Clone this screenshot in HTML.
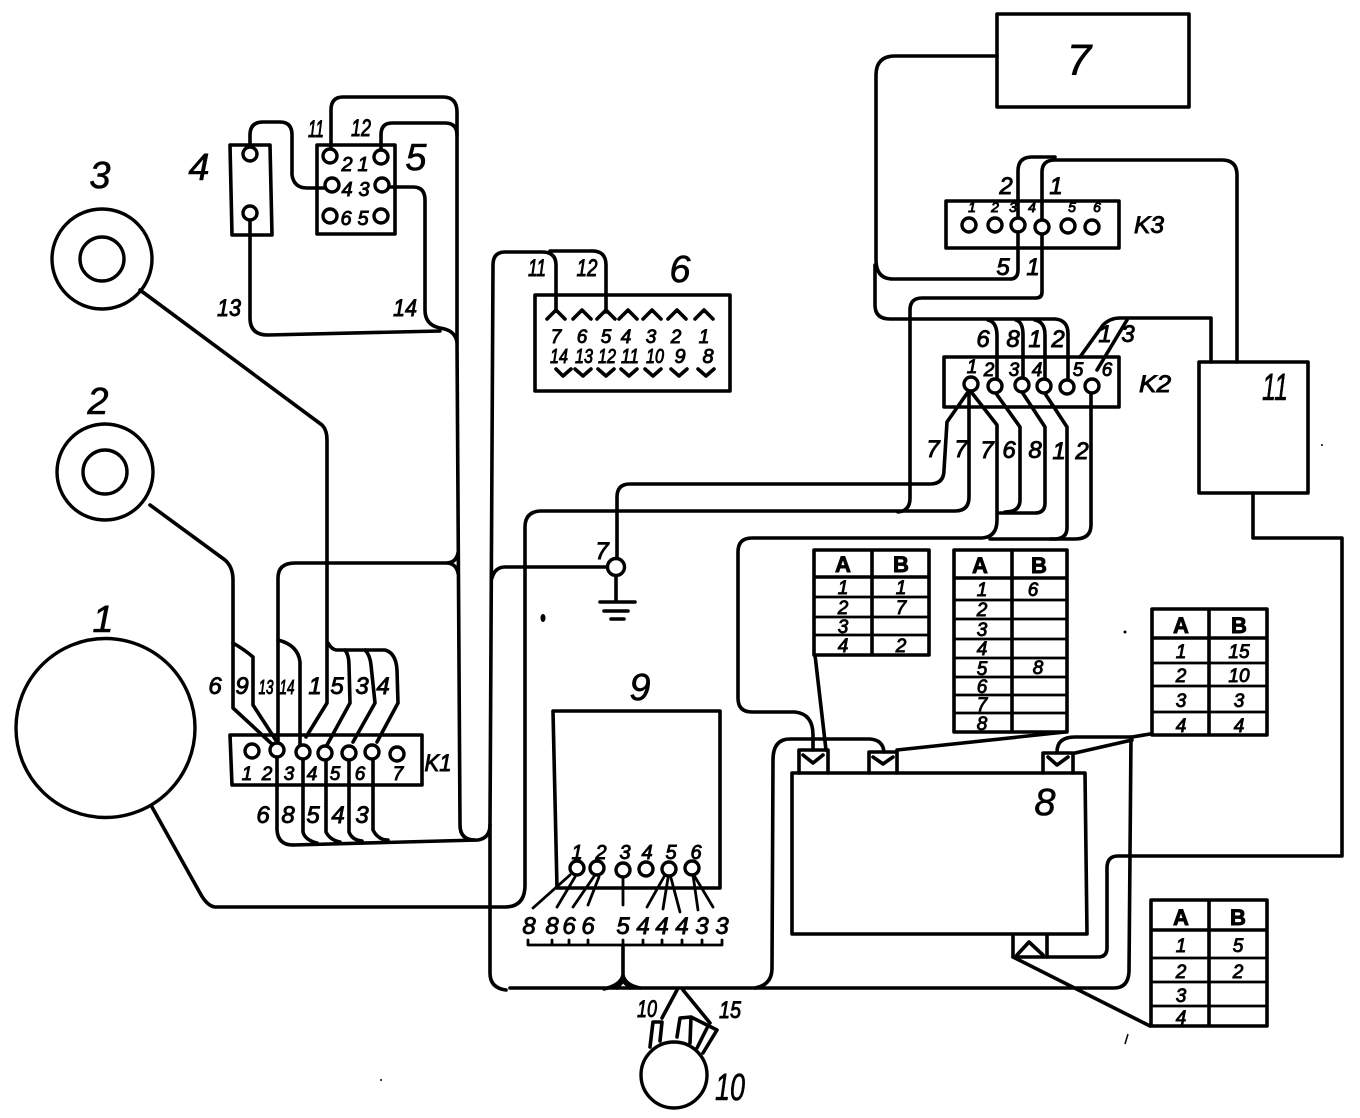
<!DOCTYPE html>
<html>
<head>
<meta charset="utf-8">
<style>
html,body{margin:0;padding:0;background:#fff}
svg{display:block}
.w{fill:none;stroke:#000;stroke-width:3.6;stroke-linecap:round;stroke-linejoin:round}
.t{fill:none;stroke:#000;stroke-width:2.8;stroke-linecap:round;stroke-linejoin:round}
.c{fill:#fff;stroke:#000;stroke-width:3.4}
text{font-family:"Liberation Sans",sans-serif;font-style:italic;fill:#000;stroke:#000;stroke-width:.9;text-anchor:middle}
.xl{font-size:44px;stroke-width:.6}
.l{font-size:38px;stroke-width:.6}
.m{font-size:24px}
.s{font-size:19px}
.n{font-size:20px}
.a{font-size:22px;font-style:normal;font-weight:bold}
.xs{font-size:14px}
</style>
</head>
<body>
<svg width="1360" height="1118" viewBox="0 0 1360 1118" xmlns="http://www.w3.org/2000/svg">
<rect width="1360" height="1118" fill="#fff"/>

<!-- device circles -->
<circle class="c" cx="102" cy="259" r="50"/><circle class="c" cx="102" cy="259" r="22"/>
<circle class="c" cx="105" cy="472" r="48"/><circle class="c" cx="105" cy="472" r="22"/>
<circle class="c" cx="105.5" cy="728" r="89.5"/>
<circle class="c" cx="674" cy="1075" r="33"/>

<!-- boxes -->
<g class="w">
<path d="M997,14H1189V107H997Z"/>
<path d="M946,201H1119V248H946Z"/>
<path d="M944,357H1119V407H944Z"/>
<path d="M1199,362H1308V493H1199Z"/>
<path d="M535,295H730V391H535Z"/>
<path d="M230,145H270L272,235H232Z"/>
<path d="M317,145H395V234H317Z"/>
<path d="M230,735H422V785H232Z"/>
<path d="M553,711H720V888H557Z"/>
<path d="M792,773H1085L1087,934H792Z"/>
<path d="M799,773V750H828V773M869,773V752H897V773M1043,773V753H1073V773M1013,935V957H1047V935"/>
<path d="M803,755L813,763L823,755M873,757L883,764L893,757M1048,757L1057,765L1068,757M1017,955L1029,942L1043,955"/>
</g>

<!-- wires top right -->
<g class="w">
<path d="M1042,226V172Q1042,160 1055,160H1222Q1237,160 1237,175V362"/>
<path d="M1018,225V171Q1018,157 1032,157H1055"/>
<path d="M1018,232V270Q1018,279 1010,279H893Q876,279 876,260V75Q876,56 895,56H997"/>
<path d="M1042,233V292Q1042,298 1036,298H922Q910,298 910,310V498Q910,511 898,512"/>
<path d="M875,265V305Q875,319 890,319H1055Q1068,320 1068,334V380"/>
<path d="M988,320Q997,322 997,336V378M1016,320Q1023,322 1023,335V378M1035,320Q1045,322 1045,335V379"/>
<path d="M1080,357L1103,325Q1110,318 1120,318H1211V362"/>
<path d="M1097,370L1127,320"/>
<path d="M968,392L947,422L944,470Q944,484 930,484H630Q617,484 617,497V558"/>
<path d="M969,393V497Q969,511 955,511H540Q525,512 525,527V885Q525,907 505,907H215Q207,906 200,893L152,807"/>
<path d="M972,393L997,425V520Q997,537 982,538H752Q738,538 738,552V698Q738,712 752,712H795Q813,714 813,735V750"/>
<path d="M995,392L1020,427V500Q1020,512 1005,512"/>
<path d="M1022,392L1045,427V503Q1045,513 1035,513H1000"/>
<path d="M1044,392L1067,427V528Q1067,538 1056,539H990"/>
<path d="M1091,393V525Q1091,539 1075,539H1050"/>
<path d="M1253,493V538H1342V856H1118Q1107,856 1107,868V948Q1107,957 1098,957H1047"/>
</g>

<!-- wires around 8 -->
<g class="w">
<path d="M815,655L826,750"/>
<path d="M897,750L1065,732"/>
<path d="M1057,752Q1057,737 1075,737H1132L1150,734"/>
<path d="M1075,753L1132,740"/>
<path d="M1131,737L1129,972Q1128,988 1114,988H510"/>
<path d="M755,988Q772,985 772,968L773,760Q773,739 790,739H870Q883,740 884,752"/>
<path d="M1013,957L1150,1026"/>
</g>

<!-- left trunk wires -->
<g class="w">
<path d="M250,147V135Q250,122 263,122H280Q292,122 292,135V175Q294,188 307,188H325"/>
<path d="M331,149V110Q331,97 343,97H443Q457,97 457,112V340L460,825Q460,840 475,840"/>
<path d="M381,150V135Q381,123 392,123H445Q457,123 457,135"/>
<path d="M389,187H413Q425,187 425,200V310Q425,325 440,328Q455,330 457,342"/>
<path d="M250,220V318Q250,335 268,335L440,331"/>
<path d="M556,310V265Q556,252 542,252H505Q493,252 493,265L490,825V973Q490,988 506,990"/>
<path d="M550,251H590Q606,250 606,265V312"/>
<path d="M293,845L478,840Q490,838 490,825"/>
<path d="M492,578Q495,567 505,567H608"/>
<path d="M278,745V578Q278,563 295,563H446Q456,563 458,553M446,563Q456,563 458,573"/>
</g>

<!-- K1 wires -->
<g class="w">
<path d="M140,290L322,425Q327,430 327,440V703L306,737"/>
<path d="M150,505L225,560Q233,567 233,580V708L273,745"/>
<path d="M233,643Q245,650 253,657V705L277,742"/>
<path d="M278,640Q298,645 300,662V745"/>
<path d="M328,643Q332,650 337,650H385Q396,653 397,670L398,703L377,742"/>
<path d="M345,650Q349,655 349,665L350,703L327,745"/>
<path d="M365,650Q370,655 371,665L375,703L353,742"/>
<path d="M277,757V830Q278,845 293,845M303,760V832Q305,840 317,843M326,760V832Q330,840 340,842M349,760V832Q352,840 362,841M373,760V830Q378,840 388,840"/>
</g>

<!-- 9 leads + bracket -->
<g class="t">
<path d="M570,875L533,908M575,877L557,907M595,875L573,907M599,877L588,905M623,877V905M665,875L647,907M668,878L663,909M671,878L680,912M693,875L698,910M695,877L713,907"/>
<path d="M528,940V945H722V940M552,940V945M569,940V945M588,940V945M623,940V945M643,940V945M662,940V945M682,940V945M702,940V945"/>
</g>
<g class="w">
<path d="M623,945V975Q621,985 604,989M623,975Q625,985 640,988"/>
<path d="M617,988L623,981L630,988"/>
<path d="M677,990L662,1018M683,990L710,1023"/>
<path d="M650,1047L653,1022H662L660,1041M677,1037L680,1018L691,1017L690,1043M691,1017L717,1030L703,1053M707,1028L697,1048"/>
</g>

<!-- ground -->
<g class="w">
<path d="M616,575V601M600,602H635M604,611H628M611,619H624"/>
</g>

<!-- chevrons box 6 -->
<g class="w">
<path d="M547,319L556,310L565,319M573,319L582,310L591,319M597,319L606,310L615,319M619,319L628,310L637,319M643,319L652,310L661,319M668,319L677,310L686,319M695,319L704,310L713,319"/>
<path d="M556,369L563,376L571,369M575,369L583,376L591,369M598,369L606,376L614,369M621,369L629,376L637,369M645,369L653,376L661,369M671,369L679,376L687,369M698,369L706,376L714,369"/>
</g>

<!-- tables -->
<g class="w">
<path d="M814,550H929V655H814ZM872,550V655M814,577H929"/>
<path d="M954,550H1067V732H954ZM1012,550V732M954,578H1067"/>
<path d="M1152,609H1267V735H1152ZM1209,609V735M1152,638H1267"/>
<path d="M1151,900H1267V1026H1151ZM1209,900V1026M1151,930H1267"/>
</g>
<g class="t">
<path d="M814,597H929M814,617H929M814,635H929"/>
<path d="M954,600H1067M954,619H1067M954,639H1067M954,658H1067M954,677H1067M954,695H1067M954,713H1067"/>
<path d="M1152,663H1267M1152,686H1267M1152,712H1267"/>
<path d="M1151,958H1267M1151,982H1267M1151,1006H1267"/>
</g>

<!-- terminals -->
<g class="c">
<circle cx="969" cy="225" r="7"/><circle cx="995" cy="225" r="7"/><circle cx="1018" cy="225" r="7"/><circle cx="1042" cy="227" r="7"/><circle cx="1068" cy="226" r="7"/><circle cx="1092" cy="227" r="7"/>
<circle cx="971" cy="384" r="7"/><circle cx="995" cy="386" r="7"/><circle cx="1022" cy="385" r="7"/><circle cx="1044" cy="386" r="7"/><circle cx="1067" cy="387" r="7"/><circle cx="1092" cy="386" r="7"/>
<circle cx="250" cy="154" r="7"/><circle cx="250" cy="213" r="7"/>
<circle cx="330" cy="156" r="7"/><circle cx="381" cy="157" r="7"/><circle cx="332" cy="185" r="7"/><circle cx="382" cy="185" r="7"/><circle cx="330" cy="216" r="7"/><circle cx="381" cy="216" r="7"/>
<circle cx="252" cy="751" r="7"/><circle cx="277" cy="750" r="7"/><circle cx="303" cy="752" r="7"/><circle cx="325" cy="753" r="7"/><circle cx="349" cy="753" r="7"/><circle cx="372" cy="752" r="7"/><circle cx="397" cy="754" r="7"/>
<circle cx="577" cy="868" r="7"/><circle cx="597" cy="868" r="7"/><circle cx="623" cy="870" r="7"/><circle cx="646" cy="869" r="7"/><circle cx="669" cy="869" r="7"/><circle cx="692" cy="868" r="7"/>
<circle cx="616" cy="567" r="8.5"/>
</g>

<!-- specks -->
<ellipse cx="543" cy="618" rx="2.5" ry="4"/><circle cx="1125" cy="632" r="1.5"/><circle cx="381" cy="1080" r="1"/><circle cx="1322" cy="445" r="1"/><path d="M1125,1044L1128,1034" stroke="#000" stroke-width="1.5"/>

<!-- large labels -->
<text class="l" x="100" y="188">3</text>
<text class="l" x="98" y="414">2</text>
<text class="l" x="103" y="632">1</text>
<text class="l" x="199" y="180">4</text>
<text class="l" x="416" y="170">5</text>
<text class="l" x="680" y="282">6</text>
<text class="xl" x="1079" y="75">7</text>
<text class="l" x="1045" y="815">8</text>
<text class="l" x="640" y="700">9</text>
<text class="l" x="1275" y="400" textLength="26" lengthAdjust="spacingAndGlyphs">11</text>
<text class="l" x="730" y="1100" textLength="30" lengthAdjust="spacingAndGlyphs">10</text>

<!-- box 4/5 -->
<text class="m" x="316" y="137" textLength="16" lengthAdjust="spacingAndGlyphs">11</text>
<text class="m" x="361" y="136" textLength="20" lengthAdjust="spacingAndGlyphs">12</text>
<text class="n" x="347" y="171">2</text><text class="n" x="363" y="171">1</text>
<text class="n" x="347" y="196">4</text><text class="n" x="364" y="196">3</text>
<text class="n" x="346" y="225">6</text><text class="n" x="363" y="225">5</text>
<text class="m" x="229" y="316" textLength="24" lengthAdjust="spacingAndGlyphs">13</text>
<text class="m" x="405" y="316" textLength="24" lengthAdjust="spacingAndGlyphs">14</text>

<!-- box 6 -->
<text class="m" x="537" y="276" textLength="18" lengthAdjust="spacingAndGlyphs">11</text>
<text class="m" x="587" y="276" textLength="21" lengthAdjust="spacingAndGlyphs">12</text>
<text class="s" x="556" y="343">7</text><text class="s" x="582" y="343">6</text><text class="s" x="606" y="343">5</text><text class="s" x="626" y="343">4</text><text class="s" x="651" y="343">3</text><text class="s" x="676" y="343">2</text><text class="s" x="704" y="343">1</text>
<text class="n" x="559" y="363" textLength="18" lengthAdjust="spacingAndGlyphs">14</text><text class="n" x="584" y="363" textLength="18" lengthAdjust="spacingAndGlyphs">13</text><text class="n" x="607" y="363" textLength="18" lengthAdjust="spacingAndGlyphs">12</text><text class="n" x="630" y="363" textLength="18" lengthAdjust="spacingAndGlyphs">11</text><text class="n" x="655" y="363" textLength="18" lengthAdjust="spacingAndGlyphs">10</text><text class="n" x="680" y="363">9</text><text class="n" x="708" y="363">8</text>

<!-- K1 -->
<text class="m" x="215" y="694">6</text><text class="m" x="242" y="694">9</text><text class="n" x="266" y="694" textLength="15" lengthAdjust="spacingAndGlyphs">13</text><text class="n" x="287" y="694" textLength="15" lengthAdjust="spacingAndGlyphs">14</text><text class="m" x="315" y="694">1</text><text class="m" x="337" y="694">5</text><text class="m" x="362" y="694">3</text><text class="m" x="383" y="694">4</text>
<text class="s" x="247" y="780">1</text><text class="s" x="267" y="780">2</text><text class="s" x="289" y="780">3</text><text class="s" x="312" y="780">4</text><text class="s" x="335" y="780">5</text><text class="s" x="360" y="780">6</text><text class="s" x="398" y="780">7</text>
<text class="m" x="263" y="823">6</text><text class="m" x="288" y="823">8</text><text class="m" x="313" y="823">5</text><text class="m" x="338" y="823">4</text><text class="m" x="362" y="823">3</text>
<text class="m" x="438" y="771" textLength="27" lengthAdjust="spacingAndGlyphs">K1</text>

<!-- K3 -->
<text class="xs" x="972" y="212">1</text><text class="xs" x="995" y="212">2</text><text class="xs" x="1013" y="212">3</text><text class="xs" x="1032" y="212">4</text><text class="xs" x="1072" y="212">5</text><text class="xs" x="1097" y="212">6</text>
<text class="m" x="1006" y="194">2</text><text class="m" x="1056" y="194">1</text>
<text class="m" x="1003" y="275">5</text><text class="m" x="1033" y="275">1</text>
<text class="m" x="1149" y="233" textLength="30" lengthAdjust="spacingAndGlyphs">K3</text>

<!-- K2 -->
<text class="m" x="983" y="347">6</text><text class="m" x="1013" y="347">8</text><text class="m" x="1035" y="347">1</text><text class="m" x="1058" y="347">2</text><text class="m" x="1105" y="342">1</text><text class="m" x="1128" y="342">3</text>
<text class="s" x="972" y="373">1</text><text class="s" x="989" y="376">2</text><text class="s" x="1014" y="376">3</text><text class="s" x="1037" y="376">4</text><text class="s" x="1078" y="376">5</text><text class="s" x="1107" y="376">6</text>
<text class="m" x="1155" y="392" textLength="32" lengthAdjust="spacingAndGlyphs">K2</text>
<text class="m" x="933" y="457">7</text><text class="m" x="961" y="457">7</text><text class="m" x="987" y="458">7</text><text class="m" x="1009" y="458">6</text><text class="m" x="1035" y="458">8</text><text class="m" x="1059" y="459">1</text><text class="m" x="1082" y="459">2</text>

<!-- ground label -->
<text class="m" x="602" y="559">7</text>

<!-- box 9 -->
<text class="n" x="577" y="859">1</text><text class="n" x="601" y="859">2</text><text class="n" x="625" y="859">3</text><text class="n" x="647" y="859">4</text><text class="n" x="671" y="859">5</text><text class="n" x="696" y="859">6</text>
<text class="m" x="529" y="934">8</text><text class="m" x="552" y="934">8</text><text class="m" x="569" y="934">6</text><text class="m" x="588" y="934">6</text><text class="m" x="623" y="934">5</text><text class="m" x="643" y="934">4</text><text class="m" x="662" y="934">4</text><text class="m" x="682" y="934">4</text><text class="m" x="702" y="934">3</text><text class="m" x="722" y="934">3</text>

<!-- motor -->
<text class="m" x="647" y="1017" textLength="20" lengthAdjust="spacingAndGlyphs">10</text>
<text class="m" x="730" y="1018" textLength="22" lengthAdjust="spacingAndGlyphs">15</text>

<!-- table 1 -->
<text class="a" x="843" y="572">A</text><text class="a" x="901" y="572">B</text>
<text class="s" x="843" y="594">1</text><text class="s" x="901" y="594">1</text>
<text class="s" x="843" y="614">2</text><text class="s" x="901" y="614">7</text>
<text class="s" x="843" y="633">3</text>
<text class="s" x="843" y="652">4</text><text class="s" x="901" y="652">2</text>

<!-- table 2 -->
<text class="a" x="980" y="573">A</text><text class="a" x="1039" y="573">B</text>
<text class="s" x="982" y="596">1</text><text class="s" x="1033" y="596">6</text>
<text class="s" x="982" y="616">2</text>
<text class="s" x="982" y="636">3</text>
<text class="s" x="982" y="655">4</text>
<text class="s" x="982" y="675">5</text><text class="s" x="1038" y="674">8</text>
<text class="s" x="982" y="693">6</text>
<text class="s" x="982" y="711">7</text>
<text class="s" x="982" y="730">8</text>

<!-- table 3 -->
<text class="a" x="1181" y="633">A</text><text class="a" x="1239" y="633">B</text>
<text class="s" x="1181" y="658">1</text><text class="s" x="1239" y="658">15</text>
<text class="s" x="1181" y="682">2</text><text class="s" x="1239" y="682">10</text>
<text class="s" x="1181" y="707">3</text><text class="s" x="1239" y="707">3</text>
<text class="s" x="1181" y="732">4</text><text class="s" x="1239" y="732">4</text>

<!-- table 4 -->
<text class="a" x="1181" y="925">A</text><text class="a" x="1238" y="925">B</text>
<text class="s" x="1181" y="952">1</text><text class="s" x="1238" y="952">5</text>
<text class="s" x="1181" y="978">2</text><text class="s" x="1238" y="978">2</text>
<text class="s" x="1181" y="1002">3</text>
<text class="s" x="1181" y="1024">4</text>
</svg>
</body>
</html>
